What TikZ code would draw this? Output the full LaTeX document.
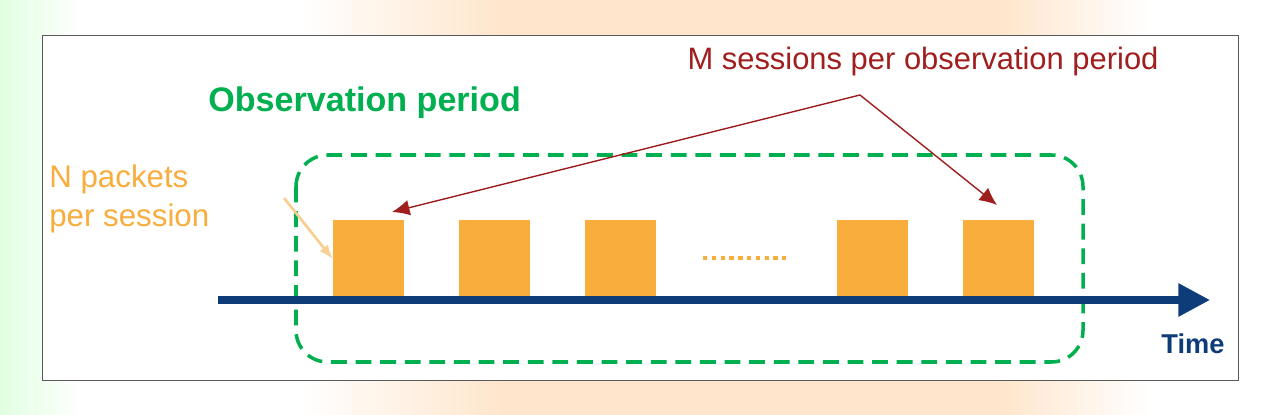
\documentclass[tikz,border=0pt]{standalone}
\usepackage{fontspec}
\setmainfont{Liberation Sans}
\usetikzlibrary{arrows.meta, positioning}
\definecolor{obsgreen}{RGB}{0,176,80}
\definecolor{sessorange}{RGB}{248,173,61}
\definecolor{timeblue}{RGB}{14,60,120}
\definecolor{darkred}{RGB}{160,30,30}
\definecolor{lightorange}{RGB}{250,205,145}
\begin{document}
\begin{tikzpicture}[x=0.02cm, y=-0.02cm,
    session/.style={fill=sessorange, draw=none, minimum width=71*0.02cm, minimum height=78*0.02cm, inner sep=0pt},
    label/.style={font=\fontsize{17.6pt}{21pt}\selectfont, inner sep=0pt},
    pointer/.style={draw=darkred, line width=0.8pt, -{Latex[length=10pt, width=9pt]}}
]
% Background
\fill[white] (0,0) rectangle (1280,415);
\shade[left color=white, right color=orange!20] (300,0) rectangle (500,415);
\fill[orange!20] (500,0) rectangle (1000,415);
\shade[left color=orange!20, right color=white] (1000,0) rectangle (1150,415);
\shade[left color=green!12, right color=white] (0,0) rectangle (80,415);
\draw[fill=white, draw=gray!70!black] (42,35) rectangle (1238,380);

% Observation window
\draw[obsgreen, dashed, line width=2pt, dash pattern=on 9pt off 5pt, rounded corners=18pt] (296,155) rectangle (1083,362);
\node[label, anchor=west, text=obsgreen, font=\fontsize{19.4pt}{23pt}\selectfont\bfseries] (obs) at (208,103) {Observation period};

% Sessions
\node[session] (s1) at (368.5,259) {};
\node[session] (s2) at (494.5,259) {};
\node[session] (s3) at (620,259) {};
\node[session] (s4) at (872,259) {};
\node[session] (s5) at (998,259) {};
\draw[sessorange, line width=2.5pt, dash pattern=on 2.5pt off 2.5pt] (703,258) -- (790,258);

% Time axis
\coordinate (t0) at (218,300);
\coordinate (t1) at (1210,300);
\draw[timeblue, line width=4pt, -{Triangle[length=18pt, width=18pt]}] (t0) -- (t1);
\node[label, text=timeblue, font=\fontsize{15.5pt}{18pt}\selectfont\bfseries] (time) at (1193,344) {Time};

% Labels
\node[label, text=darkred] (msess) at (923,62) {M sessions per observation period};
\coordinate (mpt) at (860,95);
\coordinate (m1) at (392,212);
\coordinate (m5) at (997,205);
\draw[pointer] (mpt) -- (m1);
\draw[pointer] (mpt) -- (m5);
\node[label, text=sessorange, align=left, anchor=west, font=\fontsize{17.8pt}{22pt}\selectfont] (npk) at (49,199) {N packets\\per session};
\draw[lightorange, line width=1.5pt, -{Latex[length=8pt]}] (284,198) -- (s1.west);
\end{tikzpicture}
\end{document}
